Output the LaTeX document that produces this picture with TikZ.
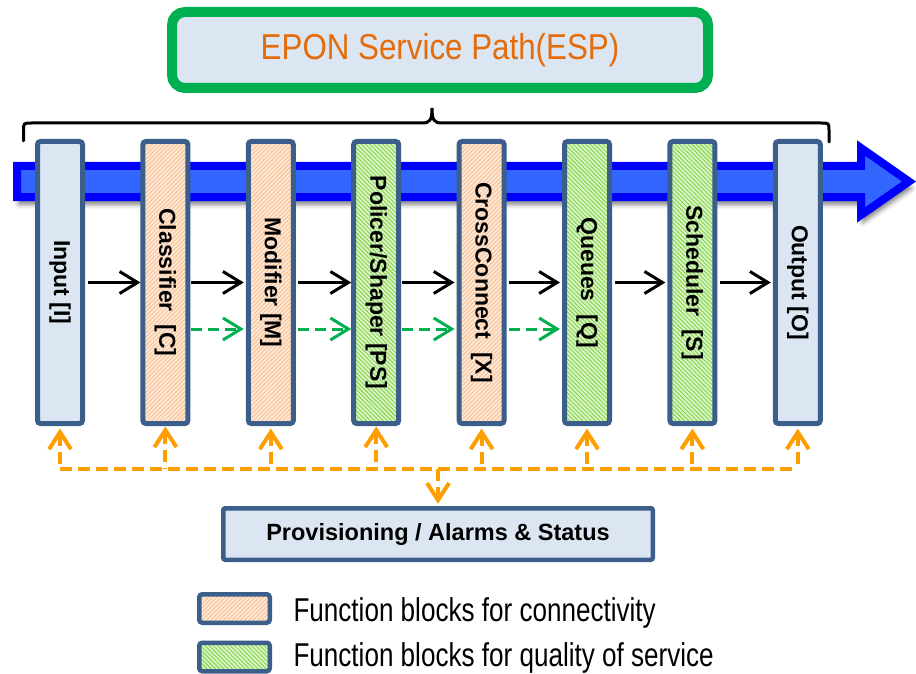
\documentclass[tikz,border=0pt]{standalone}
\usepackage{fontspec}
\setmainfont{Liberation Sans}
\newfontfamily\titlefont[FakeStretch=0.87]{Liberation Sans}
\newfontfamily\legendfont[FakeStretch=0.79]{Liberation Sans}
\usetikzlibrary{arrows.meta,patterns.meta,shadows.blur,calc}

\definecolor{bordblue}{RGB}{59,94,138}
\definecolor{paleblue}{RGB}{220,230,242}
\definecolor{peach}{RGB}{253,233,217}
\definecolor{peachline}{RGB}{250,192,144}
\definecolor{mint}{RGB}{214,247,196}
\definecolor{mintline}{RGB}{140,206,76}
\definecolor{espgreen}{RGB}{0,176,80}
\definecolor{esporange}{RGB}{228,108,10}
\definecolor{busorange}{RGB}{255,158,0}
\definecolor{pathblue}{RGB}{0,0,255}
\definecolor{pathfill}{RGB}{51,102,255}

\tikzset{
  box/.style={draw=bordblue, rounded corners=3pt, inner sep=0pt},
  plain/.style={fill=paleblue},
  conn/.style={preaction={fill=peach},
    pattern={Lines[angle=45,distance=3pt,line width=0.9pt]}, pattern color=peachline},
  qos/.style={preaction={fill=mint},
    pattern={Lines[angle=-45,distance=3pt,line width=0.9pt]}, pattern color=mintline},
  fblock/.style={box, line width=5pt, minimum width=45pt, minimum height=282pt,
    font=\fontsize{23}{27}\selectfont\bfseries},
  legbox/.style={box, line width=4.5pt, minimum width=70.5pt, minimum height=28.5pt},
  flow/.style={line width=3pt, -{Straight Barb[length=18pt,width=22pt,line width=3pt]},
    shorten <=2.5pt, shorten >=2pt},
  qflow/.style={flow, espgreen, dash pattern=on 11pt off 6pt},
  bus/.style={busorange, line width=4pt, dash pattern=on 12pt off 6pt},
  busarrow/.style={bus, {Straight Barb[length=17pt,width=22pt,line width=4pt]}-},
}

\newcommand{\vlabel}[1]{\rotatebox[origin=c]{-90}{#1}}

\begin{document}
\begin{tikzpicture}[x=1pt,y=-1pt]
\useasboundingbox (0,0) rectangle (916,674);

% service path band with its arrow head
\draw[draw=pathblue, fill=pathfill, line width=8pt, miter limit=10,
      blur shadow={shadow xshift=2pt, shadow yshift=-7pt, shadow blur radius=5pt, shadow opacity=55}]
  (17,166) -- (861,166) -- (861,148) -- (909,181.5) -- (861,215) -- (861,197) -- (17,197) -- cycle;

% title
\node[draw=espgreen, fill=paleblue, line width=10pt, rounded corners=13pt,
      minimum width=536pt, minimum height=76pt, inner sep=0pt,
      text=esporange, font=\titlefont\fontsize{36}{40}\selectfont] (ttl) at (440,50) {EPON Service Path(ESP)};

% brace under the title
\draw[line width=3pt, line cap=round]
  (23.5,141) -- (23.5,131) .. controls (23.5,123) .. (31.5,123) -- (422,123)
  .. controls (430,123) and (432,120) .. (432,108)
  .. controls (432,120) and (434,123) .. (442,123) -- (821,123)
  .. controls (829,123) .. (829,131) -- (829,142);

% function blocks
\node[fblock, plain] (bI) at (60,282.5)    {\vlabel{Input [I]}};
\node[fblock, conn]  (bC) at (165.4,282.5) {\vlabel{Classifier\ \ [C]}};
\node[fblock, conn]  (bM) at (270.8,282.5) {\vlabel{Modifier [M]}};
\node[fblock, qos]   (bP) at (376.2,282.5) {\vlabel{Policer/Shaper [PS]}};
\node[fblock, conn]  (bX) at (481.6,282.5) {\vlabel{CrossConnect\ \ [X]}};
\node[fblock, qos]   (bQ) at (587,282.5)   {\vlabel{Queues\ \ [Q]}};
\node[fblock, qos]   (bS) at (692.4,282.5) {\vlabel{Scheduler\ \ [S]}};
\node[fblock, plain] (bO) at (797.8,282.5) {\vlabel{Output [O]}};

% data flow
\foreach \a/\b in {bI/bC, bC/bM, bM/bP, bP/bX, bX/bQ, bQ/bS, bS/bO}
  \draw[flow] (\a.east) -- (\b.west);

% quality-of-service flow
\foreach \a/\b in {bC/bM, bM/bP, bP/bX, bX/bQ}
  \draw[qflow] ($(\a.east)+(0,46.5)$) -- ($(\b.west)+(0,46.5)$);

% provisioning
\node[box, plain, line width=4.5pt, rounded corners=2pt, minimum width=429.5pt, minimum height=51.5pt,
      font=\fontsize{23.5}{28}\selectfont\bfseries] (prov) at (438,534) {Provisioning / Alarms \& Status};

\path (bI.south) ++(0,42.5) coordinate (busL);
\path (bO.south) ++(0,42.5) coordinate (busR);
\draw[bus] (busL) -- (busR);
\foreach \b in {bI, bC, bM, bP, bX, bQ, bS, bO}
  \draw[busarrow, shorten <=2.5pt] (\b.south) -- (\b.south |- busL);
\draw[bus, -{Straight Barb[length=17pt,width=22pt,line width=4pt]}, shorten >=2.25pt]
  (prov.north |- busL) -- (prov.north);

% legend
\node[legbox, conn] (lg1) at (234.5,608.5) {};
\node[legbox, qos]  (lg2) at (234.5,657) {};
\node[anchor=base west, font=\legendfont\fontsize{33}{36}\selectfont] (lt1) at (290,621) {Function blocks for connectivity};
\node[anchor=base west, font=\legendfont\fontsize{33}{36}\selectfont] (lt2) at (290,666.5) {Function blocks for quality of service};
\end{tikzpicture}
\end{document}
